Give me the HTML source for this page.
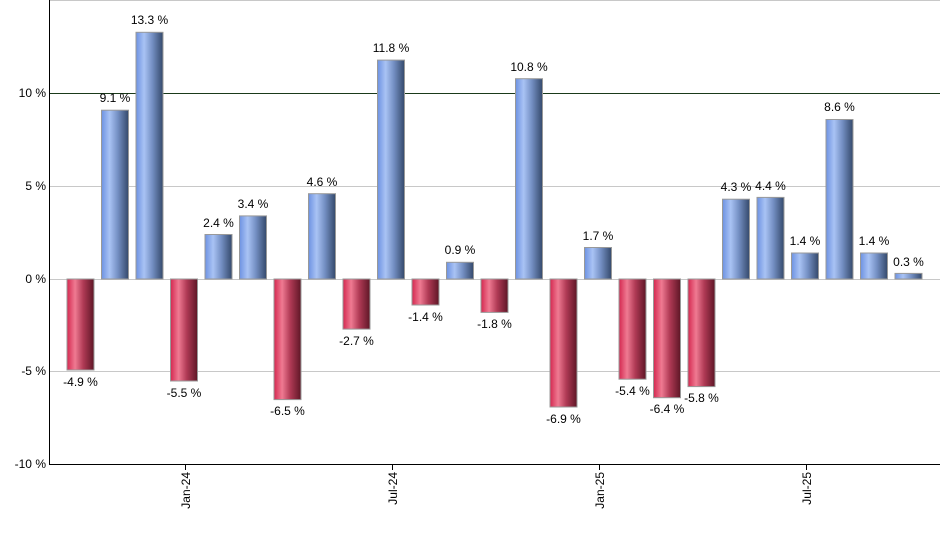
<!DOCTYPE html>
<html><head><meta charset="utf-8"><style>
body{margin:0;background:#fff}
svg text{font-family:"Liberation Sans",sans-serif;font-size:12px;fill:#000}
</style></head><body>
<svg width="940" height="550" xmlns="http://www.w3.org/2000/svg">
<defs>
<linearGradient id="b" x1="0" x2="1" y1="0" y2="0">
<stop offset="0" stop-color="#6d92e2"/><stop offset="0.3" stop-color="#a9c3f4"/><stop offset="0.6" stop-color="#7590c4"/><stop offset="1" stop-color="#34496b"/></linearGradient>
<linearGradient id="r" x1="0" x2="1" y1="0" y2="0">
<stop offset="0" stop-color="#d42850"/><stop offset="0.3" stop-color="#ef7a92"/><stop offset="0.6" stop-color="#b03a55"/><stop offset="1" stop-color="#5e1626"/></linearGradient>
</defs>
<line x1="50" y1="0.5" x2="940" y2="0.5" stroke="#c8c8c8"/>
<line x1="50" y1="186.5" x2="940" y2="186.5" stroke="#c8c8c8"/>
<line x1="50" y1="279.5" x2="940" y2="279.5" stroke="#c8c8c8"/>
<line x1="50" y1="371.5" x2="940" y2="371.5" stroke="#c8c8c8"/>
<line x1="50" y1="93.5" x2="940" y2="93.5" stroke="#1a3a1a"/>
<g text-anchor="end">
<text x="46" y="97">10 %</text><text x="46" y="190">5 %</text><text x="46" y="283">0 %</text><text x="46" y="375">-5 %</text><text x="46" y="468">-10 %</text>
</g>
<g stroke="#999" stroke-width="1">
<rect x="67" y="279" width="27" height="91" fill="url(#r)"/>
<rect x="101.5" y="110.2" width="27" height="168.8" fill="url(#b)"/>
<rect x="136" y="32.3" width="27" height="246.7" fill="url(#b)"/>
<rect x="170.5" y="279" width="27" height="102" fill="url(#r)"/>
<rect x="205" y="234.5" width="27" height="44.5" fill="url(#b)"/>
<rect x="239.5" y="215.9" width="27" height="63.1" fill="url(#b)"/>
<rect x="274" y="279" width="27" height="120.6" fill="url(#r)"/>
<rect x="308.5" y="193.7" width="27" height="85.3" fill="url(#b)"/>
<rect x="343" y="279" width="27" height="50.1" fill="url(#r)"/>
<rect x="377.5" y="60.1" width="27" height="218.9" fill="url(#b)"/>
<rect x="412" y="279" width="27" height="26" fill="url(#r)"/>
<rect x="446.5" y="262.3" width="27" height="16.7" fill="url(#b)"/>
<rect x="481" y="279" width="27" height="33.4" fill="url(#r)"/>
<rect x="515.5" y="78.7" width="27" height="200.3" fill="url(#b)"/>
<rect x="550" y="279" width="27" height="128" fill="url(#r)"/>
<rect x="584.5" y="247.5" width="27" height="31.5" fill="url(#b)"/>
<rect x="619" y="279" width="27" height="100.2" fill="url(#r)"/>
<rect x="653.5" y="279" width="27" height="118.7" fill="url(#r)"/>
<rect x="688" y="279" width="27" height="107.6" fill="url(#r)"/>
<rect x="722.5" y="199.2" width="27" height="79.8" fill="url(#b)"/>
<rect x="757" y="197.4" width="27" height="81.6" fill="url(#b)"/>
<rect x="791.5" y="253" width="27" height="26" fill="url(#b)"/>
<rect x="826" y="119.5" width="27" height="159.5" fill="url(#b)"/>
<rect x="860.5" y="253" width="27" height="26" fill="url(#b)"/>
<rect x="895" y="273.4" width="27" height="5.6" fill="url(#b)"/>
</g>
<g text-anchor="middle">
<text x="80.5" y="386">-4.9 %</text>
<text x="115" y="102">9.1 %</text>
<text x="149.5" y="24">13.3 %</text>
<text x="184" y="397">-5.5 %</text>
<text x="218.5" y="227">2.4 %</text>
<text x="253" y="208">3.4 %</text>
<text x="287.5" y="415">-6.5 %</text>
<text x="322" y="186">4.6 %</text>
<text x="356.5" y="345">-2.7 %</text>
<text x="391" y="52">11.8 %</text>
<text x="425.5" y="321">-1.4 %</text>
<text x="460" y="254">0.9 %</text>
<text x="494.5" y="328">-1.8 %</text>
<text x="529" y="71">10.8 %</text>
<text x="563.5" y="423">-6.9 %</text>
<text x="598" y="240">1.7 %</text>
<text x="632.5" y="395">-5.4 %</text>
<text x="667" y="413">-6.4 %</text>
<text x="701.5" y="402">-5.8 %</text>
<text x="736" y="191">4.3 %</text>
<text x="770.5" y="190">4.4 %</text>
<text x="805" y="245">1.4 %</text>
<text x="839.5" y="111">8.6 %</text>
<text x="874" y="245">1.4 %</text>
<text x="908.5" y="266">0.3 %</text>
</g>
<line x1="49.5" y1="0" x2="49.5" y2="465" stroke="#000"/>
<line x1="49" y1="464.5" x2="940" y2="464.5" stroke="#000"/>
<g stroke="#000"><line x1="185.5" y1="464" x2="185.5" y2="470"/><line x1="392.5" y1="464" x2="392.5" y2="470"/><line x1="599.5" y1="464" x2="599.5" y2="470"/><line x1="806.5" y1="464" x2="806.5" y2="470"/></g>
<g text-anchor="end">
<text transform="translate(190,472) rotate(-90)">Jan-24</text>
<text transform="translate(397,472) rotate(-90)">Jul-24</text>
<text transform="translate(604,472) rotate(-90)">Jan-25</text>
<text transform="translate(811,472) rotate(-90)">Jul-25</text>
</g>
</svg>
</body></html>
